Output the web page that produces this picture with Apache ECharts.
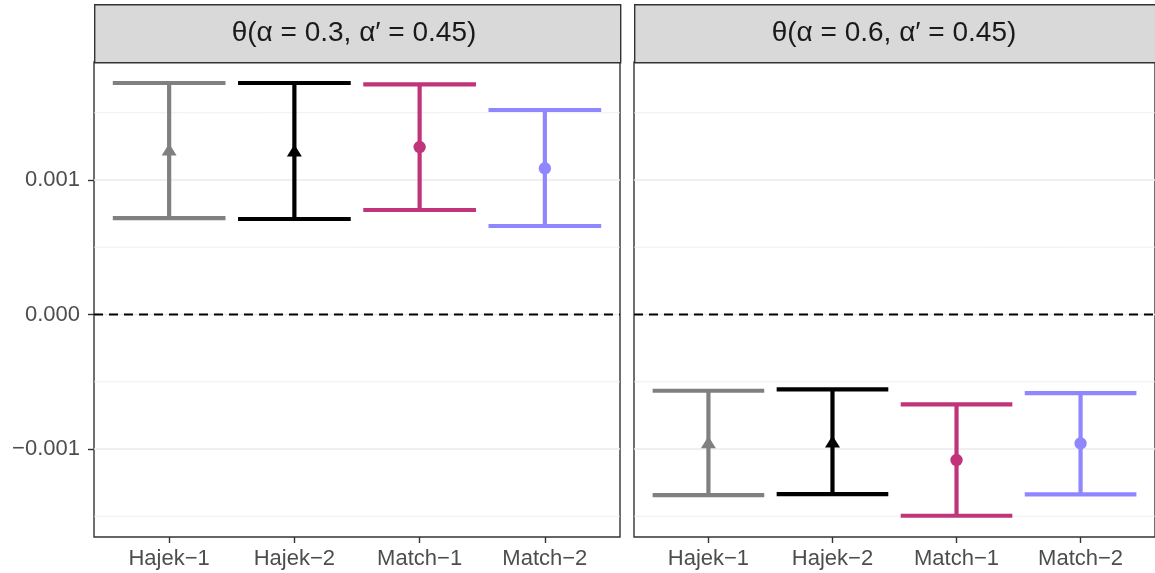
<!DOCTYPE html>
<html>
<head>
<meta charset="utf-8">
<script src="https://cdn.jsdelivr.net/npm/echarts@6/dist/echarts.min.js"></script>
<style>
  html, body { margin: 0; padding: 0; background: #ffffff; }
  #chart { width: 1155px; height: 573px; }
</style>
</head>
<body>
<div id="chart"></div>
<script>
// Estimators compared in each facet
const categories = ['Hajek\u22121', 'Hajek\u22122', 'Match\u22121', 'Match\u22122'];
const facetLabels = ['\u03b8(\u03b1 = 0.3, \u03b1\u2032 = 0.45)', '\u03b8(\u03b1 = 0.6, \u03b1\u2032 = 0.45)'];

// Point estimates and interval bounds, facet alpha = 0.3
const estimateA = [0.001223, 0.001216, 0.001245, 0.001087];
const lowerA    = [0.000717, 0.000710, 0.000777, 0.000658];
const upperA    = [0.001721, 0.001721, 0.001711, 0.001520];

// Point estimates and interval bounds, facet alpha = 0.6
const estimateB = [-0.000953, -0.000948, -0.001082, -0.000958];
const lowerB    = [-0.001342, -0.001335, -0.001496, -0.001337];
const upperB    = [-0.000567, -0.000556, -0.000668, -0.000584];

// Axis ticks
const yTicks = [-0.001, 0, 0.001];
const yMinorTicks = [-0.0015, -0.0005, 0.0005, 0.0015];
const xPositions = [1, 2, 3, 4];

const colors = ['#808080', '#000000', '#C0357A', '#9087FF'];
const shapes = ['triangle', 'triangle', 'circle', 'circle'];

const X_MIN = 0.4, X_MAX = 4.6;
const Y_MIN = -0.001654, Y_MAX = 0.001877;
const FONT = '"Liberation Sans", Arial, sans-serif';

const panels = [
  { left: 94, est: estimateA, lo: lowerA, hi: upperA },
  { left: 634, est: estimateB, lo: lowerB, hi: upperB }
];
const PANEL_TOP = 62, PANEL_H = 475, PANEL_W = 526;

function fmtY(v) {
  const s = Math.abs(v).toFixed(3);
  return v < 0 ? '\u2212' + s : s;
}

const chart = echarts.init(document.getElementById('chart'), null, { renderer: 'canvas' });

const grid = [], xAxis = [], yAxis = [], series = [], graphic = [];

panels.forEach((p, i) => {
  grid.push({
    left: p.left, top: PANEL_TOP, width: PANEL_W, height: PANEL_H,
    show: true, backgroundColor: '#ffffff', borderColor: '#333333', borderWidth: 1.4,
    containLabel: false
  });
  xAxis.push({
    type: 'value', gridIndex: i, min: X_MIN, max: X_MAX, position: 'bottom',
    axisLine: { show: false, onZero: false },
    splitLine: { show: false },
    axisTick: { show: true, customValues: xPositions, length: 6, lineStyle: { color: '#333333', width: 1.4 } },
    axisLabel: {
      show: true, customValues: xPositions, margin: 11,
      formatter: v => categories[Math.round(v) - 1] || '',
      color: '#4D4D4D', fontSize: 22, fontFamily: FONT
    }
  });
  yAxis.push({
    type: 'value', gridIndex: i, min: Y_MIN, max: Y_MAX, position: 'left',
    axisLine: { show: false, onZero: false },
    splitLine: { show: false },
    axisTick: { show: i === 0, customValues: yTicks, length: 6, lineStyle: { color: '#333333', width: 1.4 } },
    axisLabel: {
      show: i === 0, customValues: yTicks, margin: 14,
      formatter: fmtY, color: '#4D4D4D', fontSize: 22, fontFamily: FONT
    }
  });

  // panel grid lines and the dashed reference line at zero
  const lineData = yMinorTicks.map(v => [v, 0]).concat(yTicks.map(v => [v, 1])).concat([[0, 2]]);
  series.push({
    type: 'custom', xAxisIndex: i, yAxisIndex: i, z: 1, silent: true,
    data: lineData,
    renderItem: (params, api) => {
      const v = api.value(0), kind = api.value(1);
      const a = api.coord([X_MIN, v]), b = api.coord([X_MAX, v]);
      let style;
      if (kind === 0) style = { stroke: '#EBEBEB', lineWidth: 0.8 };
      else if (kind === 1) style = { stroke: '#EBEBEB', lineWidth: 1.6 };
      else style = { stroke: '#000000', lineWidth: 2, lineDash: [9, 6] };
      return { type: 'line', shape: { x1: a[0], y1: a[1], x2: b[0], y2: b[1] }, style: style, z2: kind };
    }
  });

  // error bars with point estimates
  const barData = categories.map((c, k) => [xPositions[k], p.lo[k], p.hi[k], p.est[k], k]);
  series.push({
    type: 'custom', xAxisIndex: i, yAxisIndex: i, z: 3, silent: true,
    data: barData,
    renderItem: (params, api) => {
      const x = api.value(0), lo = api.value(1), hi = api.value(2), est = api.value(3);
      const k = api.value(4);
      const col = colors[k];
      const half = api.size([0.9, 0])[0] / 2;
      const pLo = api.coord([x, lo]), pHi = api.coord([x, hi]), pEst = api.coord([x, est]);
      const lw = 4.2;
      const children = [
        { type: 'line', shape: { x1: pLo[0], y1: pLo[1], x2: pHi[0], y2: pHi[1] }, style: { stroke: col, lineWidth: lw } },
        { type: 'line', shape: { x1: pLo[0] - half, y1: pLo[1], x2: pLo[0] + half, y2: pLo[1] }, style: { stroke: col, lineWidth: lw } },
        { type: 'line', shape: { x1: pHi[0] - half, y1: pHi[1], x2: pHi[0] + half, y2: pHi[1] }, style: { stroke: col, lineWidth: lw } }
      ];
      if (shapes[k] === 'triangle') {
        children.push({
          type: 'polygon',
          shape: { points: [[pEst[0], pEst[1] - 6.5], [pEst[0] - 7.5, pEst[1] + 5.5], [pEst[0] + 7.5, pEst[1] + 5.5]] },
          style: { fill: col }
        });
      } else {
        children.push({ type: 'circle', shape: { cx: pEst[0], cy: pEst[1], r: 6.2 }, style: { fill: col } });
      }
      return { type: 'group', children: children };
    }
  });

  // facet strip
  graphic.push({
    type: 'rect', left: p.left, top: 4, z: 10,
    shape: { width: PANEL_W, height: PANEL_TOP - 4 },
    style: { fill: '#D9D9D9', stroke: '#333333', lineWidth: 1.4 }
  });
  graphic.push({
    type: 'text', z: 11,
    x: p.left + PANEL_W / 2 - 3, y: 33,
    style: {
      text: facetLabels[i], fill: '#1A1A1A', fontSize: 28, fontFamily: FONT,
      align: 'center', verticalAlign: 'middle'
    }
  });
});

chart.setOption({
  animation: false,
  backgroundColor: '#ffffff',
  grid: grid,
  xAxis: xAxis,
  yAxis: yAxis,
  series: series,
  graphic: graphic
});
</script>
</body>
</html>
